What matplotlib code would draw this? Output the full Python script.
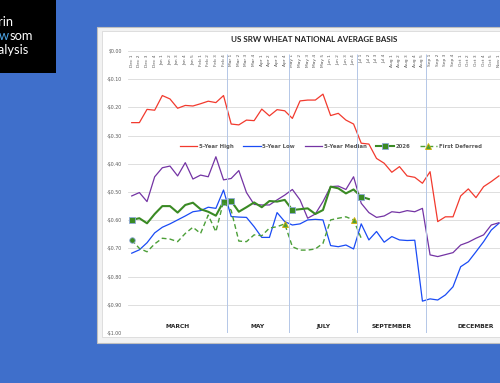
import matplotlib
matplotlib.use("Agg")
import matplotlib.pyplot as plt
import numpy as np
from matplotlib import font_manager
from matplotlib.patches import Rectangle
from matplotlib.ticker import FuncFormatter

# weekly categories, Dec 1 .. Nov 4
months = ["Dec", "Jan", "Feb", "Mar", "Apr", "May", "Jun", "Jul", "Aug", "Sep", "Oct", "Nov"]
weeks_in_month = [4, 5, 4, 4, 4, 5, 4, 4, 5, 4, 5, 4]
categories = [f"{m} {w}" for m, n in zip(months, weeks_in_month) for w in range(1, n + 1)]

# futures contract each block of weeks is priced against
contracts = ["MARCH", "MAY", "JULY", "SEPTEMBER", "DECEMBER"]
contract_weeks = [13, 8, 9, 9, 13]

high = [-0.254, -0.254, -0.207, -0.210,
        -0.158, -0.170, -0.203, -0.193, -0.195,
        -0.187, -0.178, -0.183, -0.158,
        -0.259, -0.262, -0.245, -0.247,
        -0.206, -0.230, -0.208, -0.212,
        -0.239, -0.177, -0.174, -0.174, -0.153,
        -0.229, -0.221, -0.245, -0.259,
        -0.327, -0.330, -0.381, -0.398,
        -0.430, -0.410, -0.443, -0.448, -0.469,
        -0.428, -0.605, -0.588, -0.588,
        -0.514, -0.489, -0.520, -0.481, -0.463,
        -0.443]
low = [-0.717, -0.705, -0.680, -0.645,
       -0.625, -0.613, -0.599, -0.585, -0.570,
       -0.566, -0.554, -0.558, -0.493,
       -0.587, -0.589, -0.590, -0.623,
       -0.661, -0.661, -0.573, -0.605,
       -0.617, -0.613, -0.599, -0.597, -0.599,
       -0.690, -0.694, -0.688, -0.702,
       -0.613, -0.670, -0.640, -0.678,
       -0.658, -0.670, -0.672, -0.671, -0.887,
       -0.879, -0.883, -0.865, -0.836,
       -0.765, -0.747, -0.712, -0.676, -0.635,
       -0.611]
median = [-0.514, -0.502, -0.534, -0.446,
          -0.414, -0.408, -0.443, -0.396, -0.454,
          -0.440, -0.446, -0.375, -0.457,
          -0.452, -0.424, -0.502, -0.544,
          -0.546, -0.546, -0.528, -0.511,
          -0.491, -0.528, -0.593, -0.578, -0.534,
          -0.481, -0.479, -0.491, -0.446,
          -0.540, -0.573, -0.590, -0.585,
          -0.570, -0.573, -0.566, -0.570, -0.558,
          -0.723, -0.729, -0.722, -0.715,
          -0.688, -0.678, -0.664, -0.652, -0.617,
          -0.609]
y2026 = [-0.599, -0.593, -0.611, -0.578,
         -0.550, -0.550, -0.573, -0.546, -0.538,
         -0.561, -0.570, -0.584, -0.534,
         -0.532, -0.570, -0.554, -0.537,
         -0.554, -0.532, -0.534, -0.528,
         -0.564, -0.561, -0.558, -0.578, -0.564,
         -0.481, -0.487, -0.505, -0.491,
         -0.517, -0.525]
first_deferred = [-0.670, -0.700, -0.712, -0.684,
                  -0.664, -0.667, -0.676, -0.647, -0.625,
                  -0.647, -0.582, -0.641, -0.534,
                  -0.565, -0.674, -0.676, -0.652,
                  -0.655, -0.628, -0.623, -0.613,
                  -0.694, -0.706, -0.706, -0.702, -0.682,
                  -0.599, -0.593, -0.588, -0.599,
                  -0.664]
marks_2026 = [0, 12, 13, 21, 30]
marks_deferred = [20, 29]

# pick a narrow face for the title if there is one
installed = {f.name for f in font_manager.fontManager.ttflist}
title_font = "Liberation Sans Narrow" if "Liberation Sans Narrow" in installed else "Lato"

fig = plt.figure(figsize=(5, 3.83), dpi=100)
fig.patch.set_facecolor("#3F6FCB")

# background layer in pixel coords (logo + chart frame)
bg = fig.add_axes([0, 0, 1, 1])
bg.set_xlim(0, 500); bg.set_ylim(383, 0); bg.axis("off")
bg.add_patch(Rectangle((0, 0), 55.7, 73, facecolor="black", lw=0))
logo = dict(color="white", fontsize=9.3, family="Lato", va="baseline", ha="left")
bg.text(-17, 25.7, "Darin", **logo)
t1 = bg.text(-17.5, 40, "Ne", **logo)
t2 = bg.annotate("w", xy=(1, 0), xycoords=t1, va="bottom", ha="left",
                 color="#4DA6E8", fontsize=9.3, family="Lato")
bg.annotate("som", xy=(1, 0), xycoords=t2, va="bottom", ha="left",
            color="white", fontsize=9.3, family="Lato")
bg.text(-17, 54.3, "Analysis", **logo)

bg.add_patch(Rectangle((97, 27), 420, 316, facecolor="#F2F2F2", edgecolor="#BFBFBF", lw=0.8))
bg.add_patch(Rectangle((101.5, 31), 420, 306, facecolor="white", edgecolor="#D9D9D9", lw=0.6))
bg.text(314, 40, "US SRW WHEAT NATIONAL AVERAGE BASIS", ha="center", va="center",
        fontsize=5.8, fontweight="bold", family=title_font, color="#262626")

# chart axes (runs past the right edge, like the cropped original)
ax = fig.add_axes([127.9 / 500, 50 / 383, 397.8 / 500, 282 / 383])
ax.set_facecolor("none")
n = len(categories)
ax.set_xlim(-0.5, n - 0.5)
ax.set_ylim(-1.0, 0.0)

ax.plot(np.arange(len(high)), high, color="#F23A2E", lw=0.9, label="5-Year High")
ax.plot(np.arange(len(low)), low, color="#1A4BF5", lw=0.9, label="5-Year Low")
ax.plot(np.arange(len(median)), median, color="#7434A4", lw=0.9, label="5-Year Median")
ax.plot(np.arange(len(y2026)), y2026, color="#3A8A24", lw=1.5, marker="s",
        markevery=marks_2026, ms=4.5, mfc="#3A8A24", mec="#8EA9DB", mew=0.6, label="2026")
xd = np.arange(len(first_deferred))
ax.plot(xd, first_deferred, color="#4C9F38", lw=1.0, ls=(0, (3.5, 2.2)), marker="^",
        markevery=marks_deferred, ms=4, mfc="#4C9F38", mec="#D4B000", mew=0.6,
        label="First Deferred")
ax.plot(xd[:1], first_deferred[:1], "o", ms=4, mfc="#3A8A24", mec="#8EA9DB", mew=0.6)

# contract separators + contract names
ends = np.cumsum(contract_weeks)
starts = ends - np.array(contract_weeks)
ax.vlines(ends[:-1] - 0.5, -1.0, -0.01, color="#B4C7E7", lw=0.7)
for name, s, e in zip(contracts, starts, ends):
    ax.text((s + e - 1) / 2, -0.978, name, ha="center", va="center",
            fontsize=4.3, fontweight="bold", color="#262626")

ax.set_yticks(np.round(np.arange(-1.0, 0.001, 0.1), 2))
ax.yaxis.set_major_formatter(FuncFormatter(
    lambda v, _: f"-${abs(v):.2f}" if v < -0.001 else f"${abs(v):.2f}"))
ax.tick_params(axis="y", length=0, labelsize=3.4, labelcolor="#595959", pad=4.5)

ax.set_xticks(np.arange(n))
ax.set_xticklabels(categories, rotation=90, va="top", ha="center", fontsize=3.2, color="#595959")
ax.tick_params(axis="x", length=0, top=False, bottom=False,
               labeltop=True, labelbottom=False, pad=-2.2)

ax.grid(axis="y", color="#D9D9D9", lw=0.6)
ax.set_axisbelow(True)
for s in ax.spines.values():
    s.set_visible(False)

ax.legend(loc="center", bbox_to_anchor=(0.51, 0.661), ncol=5, frameon=False,
          prop={"size": 3.9, "weight": "bold"}, labelcolor="#595959",
          handlelength=3.2, handletextpad=0.3, columnspacing=1.8)

fig.savefig("out.png", dpi=100, facecolor=fig.get_facecolor())
